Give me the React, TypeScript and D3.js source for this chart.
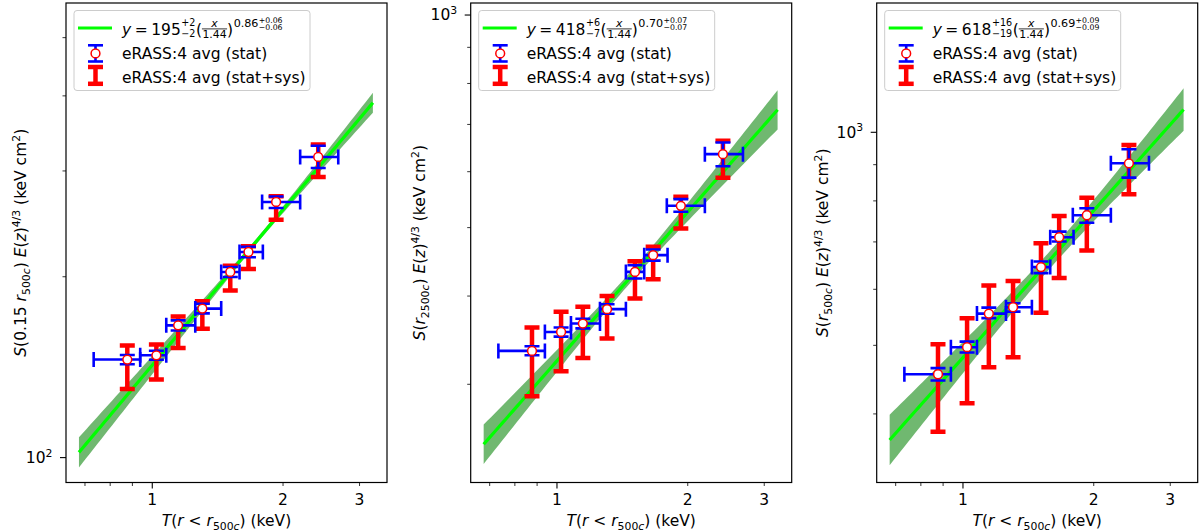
import React from 'react';
import * as d3 from 'd3';

const FONT = '"DejaVu Sans", Verdana, sans-serif';
const F = 15.5;

// ---------- shared temperature bins (keV) ----------
const T_KEV = [0.876, 1.022, 1.147, 1.304, 1.512, 1.665, 1.928, 2.41];
const T_LO = [0.733, 0.938, 1.077, 1.256, 1.441, 1.588, 1.79, 2.19];
const T_HI = [0.938, 1.077, 1.256, 1.441, 1.588, 1.797, 2.19, 2.68];

// ---------- x ticks ----------
const X_LABELED = [1, 2, 3];
const X_LABELS = ['1', '2', '3'];
const X_MAJOR = [1];
const X_MINOR = [0.7, 0.8, 0.9, 2, 3];

// ---------- panel 1: S(0.15 r500c) ----------
const S015 = [145.6, 148.0, 166.0, 177.0, 203.7, 219.9, 266.4, 316.5];
const S015_STAT_LO = [143.0, 145.5, 162.8, 173.8, 199.8, 215.5, 260.3, 303.4];
const S015_STAT_HI = [148.2, 150.6, 169.2, 180.3, 207.6, 224.3, 272.0, 330.4];
const S015_SYS_LO = [130.1, 134.9, 152.2, 163.8, 189.8, 206.1, 248.9, 293.0];
const S015_SYS_HI = [153.6, 154.2, 171.8, 182.0, 208.7, 224.7, 272.2, 332.0];

// ---------- panel 2: S(r2500c) ----------
const S2500 = [334.5, 355.8, 365.7, 383.3, 432.8, 457.1, 536.9, 635.3];
const S2500_STAT_LO = [329.8, 350.5, 360.0, 377.5, 423.6, 449.0, 526.5, 610.9];
const S2500_STAT_HI = [339.6, 361.0, 371.5, 389.5, 442.3, 465.5, 548.7, 660.0];
const S2500_SYS_LO = [288.5, 313.0, 326.9, 348.3, 396.8, 422.6, 498.6, 588.2];
const S2500_SYS_HI = [361.0, 379.9, 386.2, 400.2, 448.2, 469.7, 552.8, 663.6];

// ---------- panel 3: S(r500c) ----------
const S500 = [455.1, 497.0, 554.4, 566.0, 644.9, 710.8, 763.5, 904.1];
const S500_STAT_LO = [445.9, 488.4, 546.2, 557.9, 632.4, 700.8, 745.2, 862.8];
const S500_STAT_HI = [464.2, 506.1, 565.3, 573.4, 656.8, 723.9, 781.0, 946.2];
const S500_SYS_LO = [377.6, 414.2, 465.7, 481.1, 556.1, 622.3, 680.5, 817.5];
const S500_SYS_HI = [501.9, 546.2, 607.3, 616.6, 697.1, 761.8, 808.5, 959.5];

// ---------- fit parameters (from legends) ----------
const FIT_NORM = [195, 418, 618];
const FIT_NORM_UP = [2, 6, 16];
const FIT_NORM_DN = [2, 7, 19];
const FIT_SLOPE = [0.86, 0.7, 0.69];
const FIT_SLOPE_ERR = [0.06, 0.07, 0.09];
const FIT_PIVOT = 1.44;
const FIT_T_RANGE = [0.678, 3.22];
const BAND_PIVOT = [1.75, 1.48, 1.6];
const BAND_SCALE = [1.0, 1.13, 1.0];

// ---------- y axes ----------
const Y_DOMAINS = [[90.9, 571], [217.8, 1040], [320, 1523]];
const Y_MAJOR = [[100], [1000], [1000]];
const Y_MAJOR_LABEL = [['10', '2'], ['10', '3'], ['10', '3']];
const Y_MINOR = [[200, 300, 400, 500], [300, 400, 500, 600, 700, 800, 900], [400, 500, 600, 700, 800, 900]];

const LEGEND_STAT = 'eRASS:4 avg (stat)';
const LEGEND_SYS = 'eRASS:4 avg (stat+sys)';

type Part = { t: string; it?: boolean; sub?: boolean; sup?: boolean };

const YLABELS: Part[][] = [
  [{ t: 'S', it: true }, { t: '(0.15 ' }, { t: 'r', it: true }, { t: '500', sub: true }, { t: 'c', sub: true, it: true }, { t: ') ' },
   { t: 'E', it: true }, { t: '(' }, { t: 'z', it: true }, { t: ')' }, { t: '4/3', sup: true }, { t: ' (keV cm' }, { t: '2', sup: true }, { t: ')' }],
  [{ t: 'S', it: true }, { t: '(' }, { t: 'r', it: true }, { t: '2500', sub: true }, { t: 'c', sub: true, it: true }, { t: ') ' },
   { t: 'E', it: true }, { t: '(' }, { t: 'z', it: true }, { t: ')' }, { t: '4/3', sup: true }, { t: ' (keV cm' }, { t: '2', sup: true }, { t: ')' }],
  [{ t: 'S', it: true }, { t: '(' }, { t: 'r', it: true }, { t: '500', sub: true }, { t: 'c', sub: true, it: true }, { t: ') ' },
   { t: 'E', it: true }, { t: '(' }, { t: 'z', it: true }, { t: ')' }, { t: '4/3', sup: true }, { t: ' (keV cm' }, { t: '2', sup: true }, { t: ')' }],
];
const XLABEL: Part[] = [
  { t: 'T', it: true }, { t: '(' }, { t: 'r', it: true }, { t: ' < ' }, { t: 'r', it: true }, { t: '500', sub: true }, { t: 'c', sub: true, it: true }, { t: ') (keV)' },
];

// ---------- layout ----------
const AX_LEFT = [66, 470.7, 876.7];
const AX_W = 321;
const AX_TOP = 3;
const AX_BOTTOM = 482.5;
const X_DOMAIN = [0.633, 3.47];
const YLABEL_X = [26, 425, 828];

let _ctx: any = null;
function tw(text: string, size: number, italic = false): number {
  if (!_ctx) _ctx = document.createElement('canvas').getContext('2d');
  _ctx.font = `${italic ? 'italic ' : ''}${size}px "DejaVu Sans"`;
  return _ctx.measureText(text).width;
}

function RichText({ parts, x, y, anchor, transform }: { parts: Part[]; x: number; y: number; anchor: string; transform?: string }) {
  let cur = 0;
  return (
    <text x={x} y={y} textAnchor={anchor} transform={transform} fontFamily={FONT} fontSize={F} fill="#000" style={{ whiteSpace: 'pre' }}>
      {parts.map((p, i) => {
        const target = p.sub ? 3.5 : p.sup ? -6.5 : 0;
        const dy = target - cur;
        cur = target;
        return (
          <tspan key={i} dy={dy} fontStyle={p.it ? 'italic' : 'normal'} fontSize={p.sub || p.sup ? F * 0.7 : F}>
            {p.t}
          </tspan>
        );
      })}
    </text>
  );
}

function FitFormula({ x, y, i }: { x: number; y: number; i: number }) {
  const items: { t: string; x: number; y: number; s: number; it?: boolean }[] = [];
  let cx = x;
  const put = (t: string, s: number, dy: number, it = false, px = cx) => items.push({ t, x: px, y: y + dy, s, it });
  put('y', F, 0, true); cx += tw('y', F, true) + 3.5;
  put('=', F, 0); cx += tw('=', F) + 3.5;
  const n = String(FIT_NORM[i]);
  put(n, F, 0); cx += tw(n, F) + 0.5;
  const s1 = 0.62 * F;
  const up = '+' + FIT_NORM_UP[i];
  const dn = '\u2212' + FIT_NORM_DN[i];
  put(up, s1, -8.5); put(dn, s1, 2.5);
  cx += Math.max(tw(up, s1), tw(dn, s1)) + 0.5;
  put('(', F, 0); cx += tw('(', F);
  const s2 = 0.7 * F;
  const wn = tw('x', s2, true);
  const wd = tw('1.44', s2);
  const wb = Math.max(wn, wd) + 1;
  put('x', s2, -7.5, true, cx + (wb - wn) / 2);
  put('1.44', s2, 3.8, false, cx + (wb - wd) / 2);
  const barX0 = cx, barX1 = cx + wb;
  cx += wb;
  put(')', F, 0); cx += tw(')', F) + 0.5;
  const s3 = 0.72 * F;
  const sl = FIT_SLOPE[i].toFixed(2);
  put(sl, s3, -7.5); cx += tw(sl, s3) + 0.3;
  const s4 = 0.5 * F;
  const e = FIT_SLOPE_ERR[i].toFixed(2);
  put('+' + e, s4, -12); put('\u2212' + e, s4, -4.5);
  return (
    <g fontFamily={FONT} fill="#000">
      {items.map((it, k) => (
        <text key={k} x={it.x} y={it.y} fontSize={it.s} fontStyle={it.it ? 'italic' : 'normal'}>{it.t}</text>
      ))}
      <line x1={barX0} x2={barX1} y1={y - 5.6} y2={y - 5.6} stroke="#000" strokeWidth={0.8} />
    </g>
  );
}

const DATA = [
  { s: S015, sLo: S015_STAT_LO, sHi: S015_STAT_HI, yLo: S015_SYS_LO, yHi: S015_SYS_HI },
  { s: S2500, sLo: S2500_STAT_LO, sHi: S2500_STAT_HI, yLo: S2500_SYS_LO, yHi: S2500_SYS_HI },
  { s: S500, sLo: S500_STAT_LO, sHi: S500_STAT_HI, yLo: S500_SYS_LO, yHi: S500_SYS_HI },
];

const RED = '#ff0000';
const BLUE = '#0000ff';

function Panel({ i }: { i: number }) {
  const L = AX_LEFT[i];
  const x = d3.scaleLog().domain(X_DOMAIN).range([L, L + AX_W]);
  const y = d3.scaleLog().domain(Y_DOMAINS[i]).range([AX_BOTTOM, AX_TOP]);
  const d = DATA[i];

  const norm = FIT_NORM[i];
  const slope = FIT_SLOPE[i];
  const sigN = (FIT_NORM_UP[i] + FIT_NORM_DN[i]) / 2 / norm;
  const sigB = FIT_SLOPE_ERR[i];
  const nS = 80;
  const fitT = d3.range(nS + 1).map((k) => FIT_T_RANGE[0] * Math.pow(FIT_T_RANGE[1] / FIT_T_RANGE[0], k / nS));
  const fitPts = fitT.map((t) => {
    const v = norm * Math.pow(t / FIT_PIVOT, slope);
    const lnT = Math.log(t / BAND_PIVOT[i]);
    const sg = BAND_SCALE[i] * Math.sqrt(sigN * sigN + sigB * sigB * lnT * lnT);
    return { t, v, lo: v * Math.exp(-sg), hi: v * Math.exp(sg) };
  });
  const area = d3.area<any>().x((p) => x(p.t)).y0((p) => y(p.lo)).y1((p) => y(p.hi));
  const line = d3.line<any>().x((p) => x(p.t)).y((p) => y(p.v));

  const clipId = `clip${i}`;
  const cap = 7.5;
  const lgL = L + 8;
  const hx = L + 29.5;
  const textX = L + 56;

  return (
    <g>
      <defs>
        <clipPath id={clipId}>
          <rect x={L} y={AX_TOP} width={AX_W} height={AX_BOTTOM - AX_TOP} />
        </clipPath>
      </defs>
      <g clipPath={`url(#${clipId})`}>
        <path d={area(fitPts) || ''} fill="green" fillOpacity={0.56} stroke="none" />
        <path d={line(fitPts) || ''} fill="none" stroke="#00ff00" strokeWidth={3.2} />
        {/* stat+sys (red) */}
        {T_KEV.map((t, k) => {
          const cx = x(t);
          const y0 = y(d.yLo[k]);
          const y1 = y(d.yHi[k]);
          return (
            <g key={'r' + k} stroke={RED} strokeWidth={4.5}>
              <line x1={cx} x2={cx} y1={y0} y2={y1} />
              <line x1={cx - cap} x2={cx + cap} y1={y0} y2={y0} />
              <line x1={cx - cap} x2={cx + cap} y1={y1} y2={y1} />
            </g>
          );
        })}
        {/* stat (blue) */}
        {T_KEV.map((t, k) => {
          const cx = x(t);
          const cy = y(d.s[k]);
          const xa = x(T_LO[k]);
          const xb = x(T_HI[k]);
          const ya = y(d.sLo[k]);
          const yb = y(d.sHi[k]);
          return (
            <g key={'b' + k} stroke={BLUE} strokeWidth={2.6}>
              <line x1={xa} x2={xb} y1={cy} y2={cy} />
              <line x1={xa} x2={xa} y1={cy - cap} y2={cy + cap} />
              <line x1={xb} x2={xb} y1={cy - cap} y2={cy + cap} />
              <line x1={cx} x2={cx} y1={ya} y2={yb} />
              <line x1={cx - cap} x2={cx + cap} y1={ya} y2={ya} />
              <line x1={cx - cap} x2={cx + cap} y1={yb} y2={yb} />
            </g>
          );
        })}
        {T_KEV.map((t, k) => (
          <circle key={'m' + k} cx={x(t)} cy={y(d.s[k])} r={4.4} fill="#fff" stroke={RED} strokeWidth={1.5} />
        ))}
      </g>

      {/* axes frame */}
      <rect x={L} y={AX_TOP} width={AX_W} height={AX_BOTTOM - AX_TOP} fill="none" stroke="#000" strokeWidth={1.2} />

      {/* x ticks */}
      {X_MAJOR.map((v) => (
        <line key={'xM' + v} x1={x(v)} x2={x(v)} y1={AX_BOTTOM} y2={AX_BOTTOM + 6} stroke="#000" strokeWidth={1.1} />
      ))}
      {X_MINOR.map((v) => (
        <line key={'xm' + v} x1={x(v)} x2={x(v)} y1={AX_BOTTOM} y2={AX_BOTTOM + 3.5} stroke="#000" strokeWidth={0.8} />
      ))}
      {X_LABELED.map((v, k) => (
        <text key={'xl' + v} x={x(v)} y={505} textAnchor="middle" fontFamily={FONT} fontSize={F} fill="#000">
          {X_LABELS[k]}
        </text>
      ))}
      <RichText parts={XLABEL} x={L + AX_W / 2} y={526} anchor="middle" />

      {/* y ticks */}
      {Y_MAJOR[i].map((v) => (
        <g key={'yM' + v}>
          <line x1={L - 6} x2={L} y1={y(v)} y2={y(v)} stroke="#000" strokeWidth={1.1} />
          <text x={L - 13.5} y={y(v) + 5.4} textAnchor="end" fontFamily={FONT} fontSize={F} fill="#000">
            <tspan>{Y_MAJOR_LABEL[i][0]}</tspan>
            <tspan dy={-6.5} fontSize={F * 0.7}>{Y_MAJOR_LABEL[i][1]}</tspan>
          </text>
        </g>
      ))}
      {Y_MINOR[i].map((v) => (
        <line key={'ym' + v} x1={L - 3.5} x2={L} y1={y(v)} y2={y(v)} stroke="#000" strokeWidth={0.8} />
      ))}
      <RichText
        parts={YLABELS[i]}
        x={0}
        y={0}
        anchor="middle"
        transform={`translate(${YLABEL_X[i]},${(AX_TOP + AX_BOTTOM) / 2}) rotate(-90)`}
      />

      {/* legend */}
      <g>
        <rect x={lgL} y={10.5} width={236} height={80} rx={3} fill="#fff" fillOpacity={0.8} stroke="#cccccc" strokeWidth={1} />
        <line x1={L + 12} x2={L + 46} y1={28} y2={28} stroke="#00ff00" strokeWidth={3.2} />
        <FitFormula x={textX} y={34.5} i={i} />
        <g stroke={BLUE} strokeWidth={2.6}>
          <line x1={hx} x2={hx} y1={45.3} y2={61.5} />
          <line x1={hx - cap} x2={hx + cap} y1={45.3} y2={45.3} />
          <line x1={hx - cap} x2={hx + cap} y1={61.5} y2={61.5} />
        </g>
        <circle cx={hx} cy={53.4} r={4.4} fill="#fff" stroke={RED} strokeWidth={1.5} />
        <text x={textX} y={59.3} fontFamily={FONT} fontSize={F} fill="#000">{LEGEND_STAT}</text>
        <g stroke={RED} strokeWidth={4.5}>
          <line x1={hx} x2={hx} y1={67} y2={83.8} />
          <line x1={hx - cap} x2={hx + cap} y1={67} y2={67} />
          <line x1={hx - cap} x2={hx + cap} y1={83.8} y2={83.8} />
        </g>
        <text x={textX} y={83.3} fontFamily={FONT} fontSize={F} fill="#000">{LEGEND_SYS}</text>
      </g>
    </g>
  );
}

export default function App() {
  return (
    <div style={{ position: 'absolute', left: 0, top: 0 }}>
      <svg width={1200} height={532} viewBox="0 0 1200 532" xmlns="http://www.w3.org/2000/svg" style={{ display: 'block', background: '#fff' }}>
        <rect x={0} y={0} width={1200} height={532} fill="#fff" />
        {[0, 1, 2].map((i) => (
          <Panel key={i} i={i} />
        ))}
      </svg>
    </div>
  );
}
